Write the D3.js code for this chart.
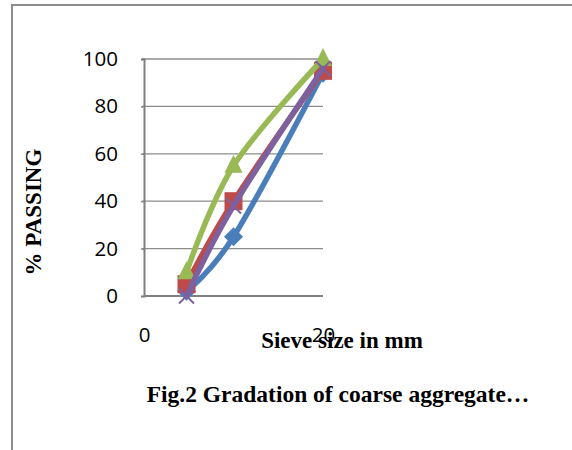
<!DOCTYPE html>
<html>
<head>
<meta charset="utf-8">
<script src="https://cdn.jsdelivr.net/npm/d3@7"></script>
<style>
  html, body { margin: 0; padding: 0; background: #fff; }
  svg { display: block; }
</style>
</head>
<body>
<svg id="chart" width="572" height="450"></svg>
<script>
// ---- data ----
const sieveSizes = [4.75, 10, 20];
const seriesNames = ["Series1", "Series2", "Series3", "Series4"];
const blueValues = [2, 25, 94];
const redValues = [5, 40, 95];
const greenValues = [10, 55, 100];
const purpleValues = [0, 38, 96];
const yTicks = [0, 20, 40, 60, 80, 100];
const xTicks = [0, 20];
const yTitle = "% PASSING";
const xTitle = "Sieve size in mm";
const caption = "Fig.2 Gradation of coarse aggregate…";

const series = [
  { name: seriesNames[0], values: blueValues, color: "#4A7EBB", marker: "diamond" },
  { name: seriesNames[1], values: redValues, color: "#BE4B48", marker: "square" },
  { name: seriesNames[2], values: greenValues, color: "#98B954", marker: "triangle" },
  { name: seriesNames[3], values: purpleValues, color: "#7D60A0", marker: "x" }
];

const svg = d3.select("#chart");

// outer frame (extends beyond the viewport right/bottom)
svg.append("rect")
  .attr("x", 12).attr("y", 5).attr("width", 700).attr("height", 600)
  .attr("fill", "none").attr("stroke", "#8c8c8c").attr("stroke-width", 2);

const x = d3.scaleLinear().domain([0, 20]).range([144, 323]);
const y = d3.scaleLinear().domain([0, 100]).range([296, 59]);

// gridlines
svg.append("g").selectAll("line").data(yTicks.filter(d => d > 0)).join("line")
  .attr("x1", x(0) - 2).attr("x2", x(20))
  .attr("y1", d => y(d)).attr("y2", d => y(d))
  .attr("stroke", "#8c8c8c").attr("stroke-width", 1.3);

// y axis
const yAxis = svg.append("g")
  .attr("transform", `translate(${x(0)},0)`)
  .call(d3.axisLeft(y).tickValues(yTicks).tickSize(3).tickPadding(23).tickFormat(d3.format("d")));
yAxis.select(".domain").attr("stroke", "#7f7f7f").attr("stroke-width", 2);
yAxis.selectAll(".tick line").attr("stroke", "#7f7f7f").attr("stroke-width", 1.3);
yAxis.selectAll("text").attr("font-family", "'Open Sans', sans-serif").attr("font-size", 20.5)
  .attr("fill", "#000");

// x axis
const xAxis = svg.append("g")
  .attr("transform", `translate(0,${y(0)})`)
  .call(d3.axisBottom(x).tickValues(xTicks).tickSize(0).tickPadding(31).tickFormat(d3.format("d")));
xAxis.select(".domain").remove();
xAxis.selectAll("text").attr("font-family", "'Open Sans', sans-serif").attr("font-size", 20.5)
  .attr("fill", "#000");
svg.append("line")
  .attr("x1", x(0)).attr("x2", x(20)).attr("y1", y(0)).attr("y2", y(0))
  .attr("stroke", "#7f7f7f").attr("stroke-width", 2);

// lines
const line = d3.line()
  .x((d, i) => x(sieveSizes[i]))
  .y(d => y(d))
  .curve(d3.curveCardinal.tension(0));

const markerPath = {
  diamond: "M0,-9.5L9.5,0L0,9.5L-9.5,0Z",
  square: "M-9,-9H9V9H-9Z",
  triangle: "M0,-11L9,7H-9Z",
  x: "M-7.5,-7.5L7.5,7.5M7.5,-7.5L-7.5,7.5"
};

series.forEach(s => {
  const g = svg.append("g");
  g.append("path")
    .attr("d", line(s.values))
    .attr("fill", "none")
    .attr("stroke", s.color)
    .attr("stroke-width", 5.5)
    .attr("stroke-linejoin", "round")
    .attr("stroke-linecap", "round");
  g.selectAll("path.m").data(s.values).join("path")
    .attr("class", "m")
    .attr("transform", (d, i) => `translate(${x(sieveSizes[i])},${y(d)})`)
    .attr("d", markerPath[s.marker])
    .attr("fill", s.marker === "x" ? "none" : s.color)
    .attr("stroke", s.marker === "x" ? s.color : "none")
    .attr("stroke-width", s.marker === "x" ? 2 : 0);
});

// titles
svg.append("text")
  .attr("transform", `translate(41,212) rotate(-90)`)
  .attr("text-anchor", "middle")
  .attr("font-family", "'Liberation Serif', 'Times New Roman', serif")
  .attr("font-weight", "bold").attr("font-size", 23)
  .text(yTitle);

svg.append("text")
  .attr("x", 342).attr("y", 348)
  .attr("text-anchor", "middle")
  .attr("font-family", "'Liberation Serif', 'Times New Roman', serif")
  .attr("font-weight", "bold").attr("font-size", 23)
  .text(xTitle);

svg.append("text")
  .attr("x", 338).attr("y", 402)
  .attr("text-anchor", "middle")
  .attr("font-family", "'Liberation Serif', 'Times New Roman', serif")
  .attr("font-weight", "bold").attr("font-size", 23.5)
  .text(caption);
</script>
</body>
</html>
